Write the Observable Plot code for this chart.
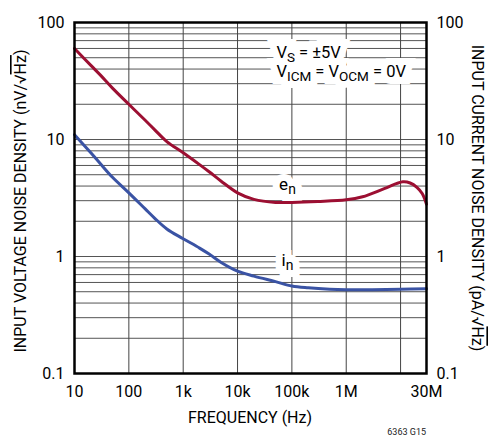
<!DOCTYPE html>
<html><head><meta charset="utf-8">
<script src="https://cdn.jsdelivr.net/npm/d3@7"></script>
<script src="https://cdn.jsdelivr.net/npm/@observablehq/plot@0.6"></script>
<style>
body{margin:0;background:#fff;}
#chart{width:490px;height:438px;overflow:hidden;}
svg{font-family:Roboto,"Liberation Sans",sans-serif;}
</style></head><body><div id="chart"></div>
<script>
// e_n : input voltage noise density (nV/√Hz)
const freqEn = [10, 20, 30, 50, 100, 200, 300, 500, 1e3, 2e3, 3e3, 5e3, 1e4, 2e4, 5e4, 1e5, 3e5, 1e6, 2e6, 5e6, 1.1e7, 1.5e7, 2e7, 2.5e7, 3e7];
const enValues = [60, 43, 35.5, 27.5, 20, 14.6, 12.1, 9.6, 7.7, 6.1, 5.3, 4.4, 3.5, 3.08, 2.9, 2.9, 2.95, 3.05, 3.24, 3.8, 4.35, 4.25, 3.9, 3.45, 2.8];
// i_n : input current noise density (pA/√Hz)
const freqIn = [10, 20, 30, 50, 100, 200, 300, 500, 1e3, 2e3, 3e3, 5e3, 1e4, 2e4, 5e4, 1e5, 2e5, 5e5, 1e6, 3e6, 1e7, 3e7];
const inValues = [11, 7.7, 6.2, 4.75, 3.5, 2.55, 2.12, 1.72, 1.42, 1.18, 1.05, 0.89, 0.75, 0.68, 0.61, 0.56, 0.54, 0.525, 0.52, 0.52, 0.525, 0.53];

const xTicks = [10, 100, 1e3, 1e4, 1e5, 1e6, 3e7];
const xTickLabels = ["10", "100", "1k", "10k", "100k", "1M", "30M"];
const xGrid = [10, 100, 1e3, 1e4, 1e5, 1e6, 1e7, 3e7];
const yTicks = [0.1, 1, 10, 100];
const yTickLabels = ["0.1", "1", "10", "100"];
const yGridMultiples = [1, 2, 3, 4, 5, 6, 7, 8, 9];
const yGridDecades = [0.1, 1, 10];
const yGrid = yGridDecades.flatMap(d => yGridMultiples.map(k => +(d * k).toPrecision(3))).concat([100]);

const curveLabelText = ["e_{n}", "i_{n}"];
const curveLabelFreq = [8.3e4, 8.3e4];
const curveLabelValue = [4.15, 0.93];
const noteText = ["V_{S} = ±5V", "V_{ICM} = V_{OCM} = 0V"];
const noteFreq = [5.2e4, 5.2e4];
const noteValue = [55.5, 37.8];

const enData = freqEn.map((f, i) => ({f, v: enValues[i]}));
const inData = freqIn.map((f, i) => ({f, v: inValues[i]}));
const curveLabels = curveLabelText.map((t, i) => ({t, f: curveLabelFreq[i], v: curveLabelValue[i]}));
const notes = noteText.map((t, i) => ({t, f: noteFreq[i], v: noteValue[i]}));

const halo = {fill: "white", stroke: "white", strokeWidth: 14, strokeLinejoin: "miter"};
const plot = Plot.plot({
  width: 490, height: 438,
  marginLeft: 74, marginRight: 64, marginTop: 22, marginBottom: 65,
  style: {fontSize: "16px", fontFamily: "Roboto, 'Liberation Sans', sans-serif", background: "white"},
  x: {type: "log", domain: [10, 3e7], axis: null},
  y: {type: "log", domain: [0.1, 100], axis: null},
  marks: [
    Plot.ruleY(yGrid, {stroke: "#555", strokeWidth: 1}),
    Plot.ruleX(xGrid, {stroke: "#444", strokeWidth: 1}),
    Plot.text(notes, {x: "f", y: "v", text: "t", textAnchor: "start", fontSize: 16.5, ...halo, className: "sub"}),
    Plot.text(curveLabels, {x: "f", y: "v", text: "t", fontSize: 17, ...halo, className: "sub"}),
    Plot.text(notes, {x: "f", y: "v", text: "t", textAnchor: "start", fontSize: 16.5, fill: "black", className: "sub"}),
    Plot.text(curveLabels, {x: "f", y: "v", text: "t", fontSize: 17, fill: "black", className: "sub"}),
    Plot.line(enData, {x: "f", y: "v", stroke: "#9c0f32", strokeWidth: 3, curve: "catmull-rom"}),
    Plot.line(inData, {x: "f", y: "v", stroke: "#3a53a4", strokeWidth: 3, curve: "catmull-rom"}),
    Plot.frame({stroke: "black", strokeWidth: 2.5}),
    Plot.text(xTicks, {x: d => d, text: (d, i) => xTickLabels[i], frameAnchor: "bottom",
      lineAnchor: "top", dy: 12, fontSize: 16, fill: "black"}),
    Plot.text(yTicks, {y: d => d, text: (d, i) => yTickLabels[i], frameAnchor: "left",
      textAnchor: "end", dx: -10, fontSize: 16, fill: "black"}),
    Plot.text(yTicks, {y: d => d, text: (d, i) => yTickLabels[i], frameAnchor: "right",
      textAnchor: "start", dx: 10, fontSize: 16, fill: "black"})
  ]
});
document.getElementById("chart").append(plot);

// subscripts
const svg = d3.select(plot);
svg.selectAll("g.sub text").each(function() {
  const el = d3.select(this);
  const s = el.text();
  el.text(null);
  const parts = s.split(/(_\{[^}]*\})/).filter(p => p.length);
  let shifted = false;
  for (const p of parts) {
    if (p.startsWith("_{")) {
      el.append("tspan").attr("dy", shifted ? 0 : 4).attr("font-size", "0.82em").text(p.slice(2, -1));
      shifted = true;
    } else {
      el.append("tspan").attr("dy", shifted ? -4 : 0).text(p);
      shifted = false;
    }
  }
});

// axis titles
function title(x, y, rot, pre) {
  const t = svg.append("text")
    .attr("transform", `translate(${x},${y}) rotate(${rot})`)
    .attr("text-anchor", "middle").attr("font-size", 16).attr("fill", "black");
  t.append("tspan").text(pre);
  t.append("tspan").attr("text-decoration", "overline").text("Hz");
  t.append("tspan").text(")");
}
title(26, 201, -90, "INPUT VOLTAGE NOISE DENSITY (nV/√");
title(472, 198, 90, "INPUT CURRENT NOISE DENSITY (pA/√");
svg.append("text").attr("x", 250).attr("y", 423).attr("text-anchor", "middle")
  .attr("font-size", 16).attr("fill", "black").text("FREQUENCY (Hz)");
svg.append("text").attr("x", 426).attr("y", 435).attr("text-anchor", "end")
  .attr("font-size", 9).attr("fill", "#222").text("6363 G15");
</script></body></html>
